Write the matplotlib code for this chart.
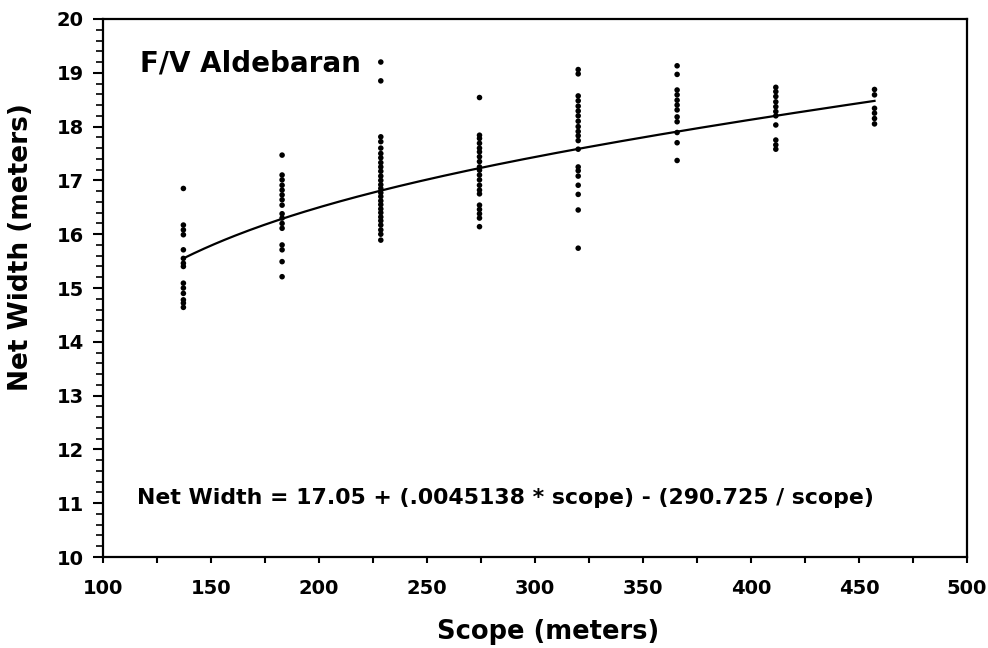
import numpy as np
import matplotlib
matplotlib.use("Agg")
import matplotlib.pyplot as plt
from matplotlib.ticker import MultipleLocator

plt.rcParams['font.family'] = ['DejaVu Sans']
plt.rcParams['font.weight'] = 'bold'

# Data (scope in meters, net width in meters)
scope_136 = [16.85, 16.17, 16.08, 15.99, 15.71, 15.55, 15.46, 15.40, 15.09, 15.00, 14.90, 14.78, 14.72, 14.64]
scope_182 = [17.47, 17.10, 17.01, 16.91, 16.82, 16.73, 16.64, 16.54, 16.38, 16.30, 16.20, 16.11, 15.80, 15.71, 15.49, 15.21]
scope_228 = [19.20, 18.85, 17.81, 17.72, 17.60, 17.50, 17.42, 17.33, 17.25, 17.17, 17.08, 17.00, 16.92, 16.85,
             16.77, 16.70, 16.62, 16.55, 16.47, 16.40, 16.32, 16.25, 16.17, 16.08, 16.00, 15.89]
scope_274 = [18.54, 17.84, 17.78, 17.69, 17.60, 17.53, 17.44, 17.35, 17.25, 17.19, 17.10, 17.01, 16.91, 16.82,
             16.75, 16.54, 16.46, 16.38, 16.30, 16.14]
scope_320 = [19.06, 18.98, 18.57, 18.48, 18.38, 18.29, 18.20, 18.10, 18.00, 17.91, 17.83, 17.74, 17.58, 17.25,
             17.18, 17.08, 16.91, 16.74, 16.45, 15.74]
scope_366 = [19.13, 18.97, 18.68, 18.59, 18.49, 18.40, 18.31, 18.18, 18.09, 17.89, 17.70, 17.37]
scope_411 = [18.73, 18.65, 18.56, 18.46, 18.37, 18.28, 18.20, 18.03, 17.75, 17.66, 17.58]
scope_457 = [18.69, 18.59, 18.34, 18.25, 18.15, 18.05]

scopes = [137.2, 182.9, 228.6, 274.3, 320.0, 365.8, 411.5, 457.2]
widths = [scope_136, scope_182, scope_228, scope_274, scope_320, scope_366, scope_411, scope_457]

# Fitted model coefficients
a, b, c = 17.05, 0.0045138, 290.725

fig = plt.figure(figsize=(9.88, 6.48), dpi=100)
ax = fig.add_axes([0.1043, 0.1404, 0.8744, 0.8303])

for s, w in zip(scopes, widths):
    ax.scatter([s] * len(w), w, s=16, color='black', edgecolors='none', zorder=3)

xs = np.linspace(scopes[0], scopes[-1], 200)
ax.plot(xs, a + b * xs - c / xs, color='black', lw=1.6, zorder=2)

ax.set_xlim(100, 500)
ax.set_ylim(10, 20)
ax.xaxis.set_major_locator(MultipleLocator(50))
ax.xaxis.set_minor_locator(MultipleLocator(25))
ax.yaxis.set_major_locator(MultipleLocator(1))
ax.yaxis.set_minor_locator(MultipleLocator(0.2))
ax.tick_params(axis='x', which='both', direction='out', length=4, width=1.5, labelsize=14, pad=12)
ax.tick_params(axis='y', which='major', direction='out', length=7, width=1.5, labelsize=14, pad=7)
ax.tick_params(axis='y', which='minor', direction='out', length=5, width=1.2)
ax.tick_params(top=False, right=False)
for sp in ax.spines.values():
    sp.set_linewidth(1.6)
for lab in ax.get_xticklabels() + ax.get_yticklabels():
    lab.set_fontweight('bold')

ax.set_xlabel('Scope (meters)', fontsize=18.5, fontweight='bold')
ax.xaxis.set_label_coords(0.515, -0.115)
ax.set_ylabel('Net Width (meters)', fontsize=19, fontweight='bold')
ax.yaxis.set_label_coords(-0.08, 0.576)

ax.text(117, 19.18, 'F/V Aldebaran', fontsize=20, fontweight='bold', va='center', ha='left')
ax.text(115.5, 11.1, 'Net Width = 17.05 + (.0045138 * scope) - (290.725 / scope)',
        fontsize=15.8, fontweight='bold', va='center', ha='left')

fig.savefig('out.png', dpi=100)
